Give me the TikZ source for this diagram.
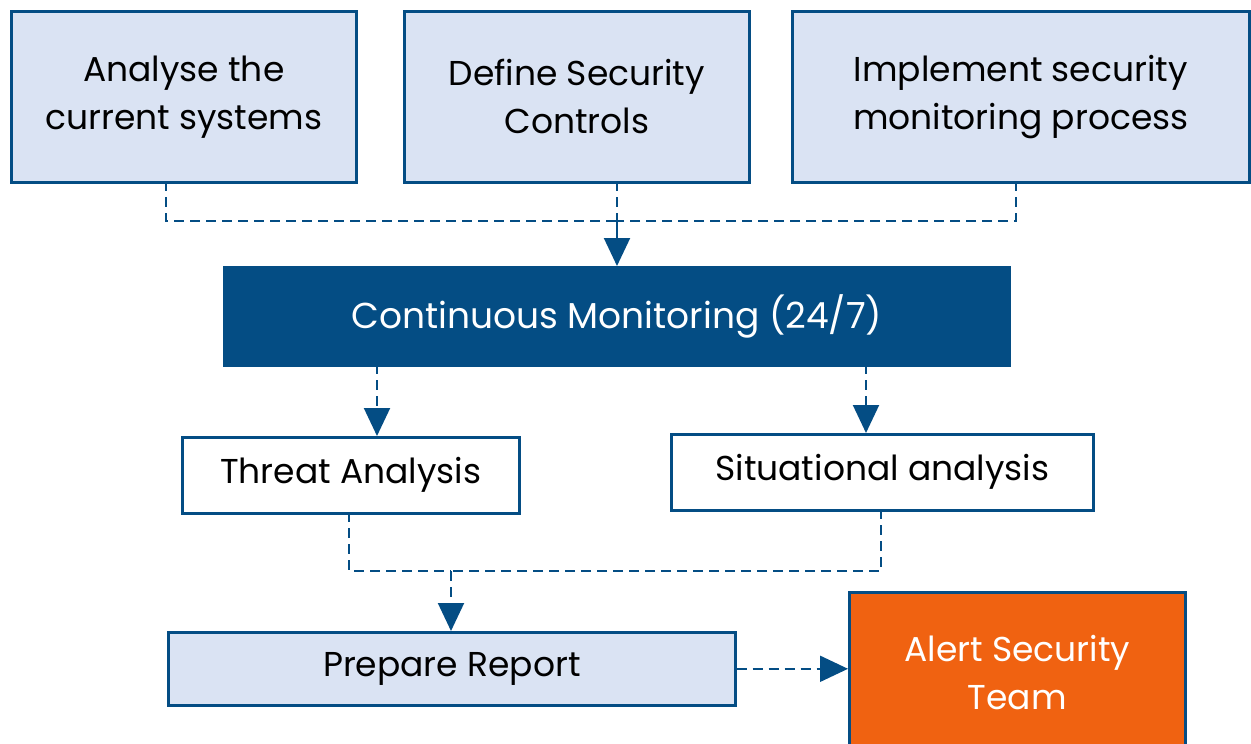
\documentclass[tikz,border=0pt]{standalone}
\usepackage{fontspec}
\setmainfont{Poppins}
\usetikzlibrary{arrows.meta}
\definecolor{dblue}{HTML}{044D84}
\definecolor{lblue}{HTML}{DAE3F3}
\definecolor{orng}{HTML}{F06211}
\tikzset{
  box/.style={draw=dblue, line width=2.6pt, anchor=north west, inner sep=0pt, align=center,
    font=\fontsize{34.5}{48}\selectfont, text=black},
  conn/.style={draw=dblue, line width=2pt, dash pattern=on 10pt off 6pt},
  tip/.style={-{Triangle[width=26pt,length=28pt]}}
}
\begin{document}
\begin{tikzpicture}[x=1pt,y=-1pt]
\useasboundingbox (0,0) rectangle (1251,744);
\node[box, fill=lblue, minimum width=345, minimum height=171] (A) at (10,10) {Analyse the\\current systems};
\node[box, fill=lblue, minimum width=345, minimum height=171] (B) at (403,10) {Define Security\\Controls};
\node[box, fill=lblue, minimum width=457, minimum height=171] (C) at (791,10) {Implement security\\monitoring process};
\node[box, fill=dblue, text=white, minimum width=785, minimum height=98, font=\fontsize{36}{48}\selectfont] (M) at (223,266) {Continuous Monitoring (24/7)};
\node[box, fill=white, minimum width=337, minimum height=76] (T) at (181,436) {Threat Analysis};
\node[box, fill=white, minimum width=422, minimum height=76] (S) at (670,433) {Situational analysis};
\node[box, fill=lblue, minimum width=567, minimum height=73] (P) at (167,631) {Prepare Report};
\node[box, fill=orng, text=white, minimum width=336, minimum height=160] (L) at (848,591) {Alert Security\\Team};
% top joins
\coordinate (a1) at (166,181);
\coordinate (b1) at (617,181);
\coordinate (c1) at (1016,181);
\coordinate (j1) at (617,221);
\coordinate (m1) at (617,266);
\draw[conn] (a1) |- (j1);
\draw[conn] (c1) |- (j1);
\draw[conn] (b1) -- (j1);
\draw[dblue, line width=2pt, tip] (j1) -- (m1);
% monitoring to analyses
\coordinate (m2) at (377,364);
\coordinate (t1) at (377,436);
\coordinate (m3) at (866,364);
\coordinate (s1) at (866,433);
\draw[conn, tip] (m2) -- (t1);
\draw[conn, tip] (m3) -- (s1);
% bottom joins
\coordinate (t2) at (349,512);
\coordinate (s2) at (881,509);
\coordinate (j2) at (451,571);
\coordinate (p1) at (451,631);
\draw[conn] (t2) |- (j2);
\draw[conn] (s2) |- (j2);
\draw[conn, tip] (j2) -- (p1);
% report to alert
\draw[conn, tip] (P.east) -- (P.east -| L.west);
\end{tikzpicture}
\end{document}
